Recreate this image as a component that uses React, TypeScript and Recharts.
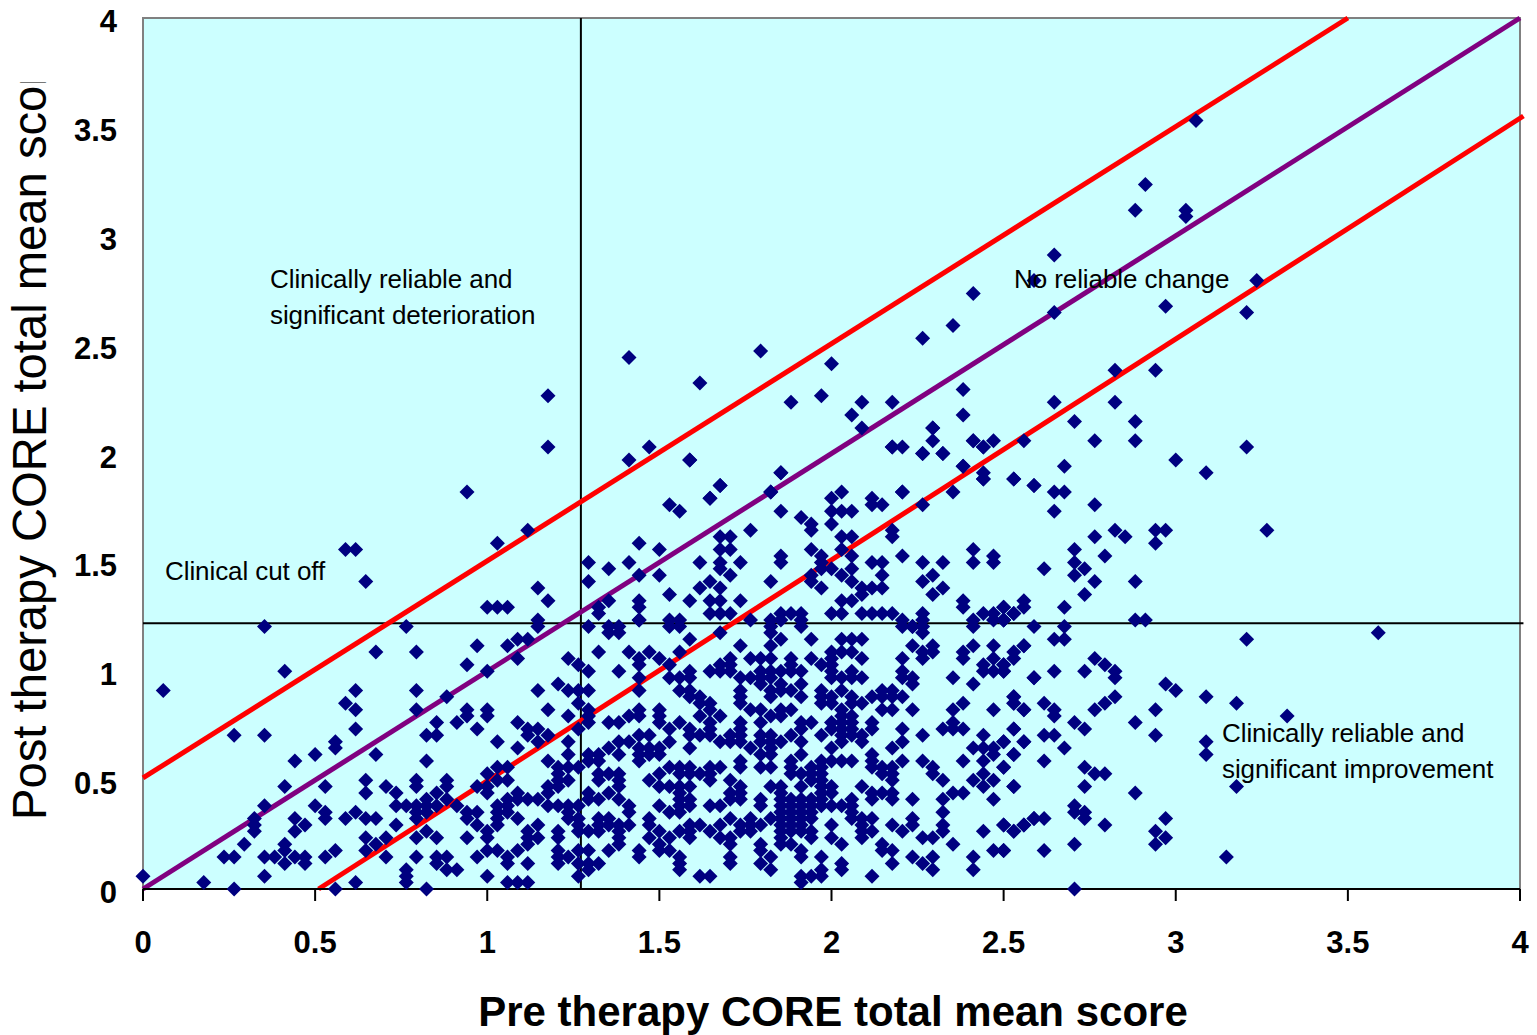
import React from 'react';
import { ScatterChart, Scatter, XAxis, YAxis, ReferenceLine, ReferenceArea } from 'recharts';

// Each row is [post total, pre total, pre total, ...]
const lowLeftRows = [
  [41, 12, 26], [37, 23, 27], [34, 14], [31, 2, 21, 27], [29, 20], [28, 21, 27], [26, 29], [25, 21],
  [24, 9, 12, 28, 29], [23, 19], [22, 19], [21, 17, 23], [20, 15, 28], [17, 22, 27], [16, 14, 18, 24, 27],
  [15, 22, 25, 29], [14, 28], [13, 12, 17, 25, 26, 27, 28, 29], [12, 18, 21, 27, 28],
  [11, 11, 15, 18, 20, 22, 23, 27], [10, 11, 16, 25], [9, 11, 15, 28], [8, 22, 24, 27, 29], [7, 10, 14, 23],
  [6, 14, 19, 22], [5, 8, 9, 12, 13, 15, 16, 18, 24, 27, 29], [4, 14, 16, 29], [3, 26], [2, 0, 12, 26],
  [1, 6, 21, 26], [0, 9, 19, 28],
];

const lowMiddleRows = [
  [42, 49], [41, 39, 44, 52, 53], [40, 46, 47, 57], [39, 37, 38, 54], [38, 33, 36], [37, 45, 48, 50, 53],
  [36, 37, 42, 49, 51, 58], [35, 32, 43, 49, 52, 57, 58], [34, 34, 44, 47, 54, 56, 57, 58], [33, 49, 52, 53, 54],
  [32, 41], [31, 39, 42, 43, 44, 49, 53, 54], [30, 30, 54, 55], [29, 43, 55, 56], [28, 32, 34, 40, 44, 49, 51, 56],
  [27, 32, 34, 42, 44, 48, 49, 51, 55, 57], [26, 31, 37, 44, 46, 47, 51, 53, 56], [25, 33, 38, 39, 43, 52, 54, 56],
  [24, 38, 40, 49, 50, 54, 55, 56, 58], [23, 35, 39, 42, 47, 48, 52, 57, 58], [22, 37, 46, 49, 50, 51, 54],
  [21, 42, 44, 45, 47, 49, 50, 51], [20, 40, 44, 45, 49], [19, 35, 36, 41, 42, 43, 52, 53, 54, 56, 57],
  [18, 34, 41, 45, 46, 47, 51, 53, 54, 55, 56], [17, 30, 35, 36, 41, 42, 45, 47, 50, 56, 58],
  [16, 30, 33, 34, 40, 41, 47, 51, 52, 53, 54], [15, 34, 37, 40, 44, 46, 53, 58],
  [14, 30, 36, 37, 38, 39, 44, 45, 47, 53, 54, 58], [13, 31, 35, 36, 40, 41, 42, 43, 48, 51, 53, 54, 56, 57],
  [12, 32, 33, 35, 36, 42, 48, 52, 53], [11, 32, 35, 37, 42, 43, 45, 46, 50, 58],
  [10, 33, 35, 39, 43, 45, 46, 47, 48, 50, 54, 55, 57], [9, 34, 38, 41, 43, 44, 45, 47, 51, 53, 54, 56],
  [8, 32, 34, 38, 39, 41, 47, 50, 52, 54, 57, 58], [7, 38, 47, 51, 58], [6, 34, 35, 37, 41, 43, 44, 46, 49, 51, 52],
  [5, 30, 33, 36, 41, 42, 49, 53, 58], [4, 36, 38, 41, 43, 44, 45, 53, 58], [3, 30, 31, 44, 53], [2, 34, 43, 55, 56],
  [1, 36, 37, 38],
];

const lowRightRows = [
  [42, 84, 85], [41, 62, 65, 75, 76, 82], [40, 62, 77], [39, 63, 66, 69, 70, 71], [38, 59, 62, 76, 78, 82, 84, 87],
  [37, 68, 69, 70, 77, 78, 81], [36, 60, 61, 62, 64, 66, 68, 71, 75, 77, 81, 84, 86], [35, 64, 67, 68, 83, 85],
  [34, 61, 62, 63, 64, 65, 68, 70, 75, 83, 84, 85], [33, 59, 60, 61, 62, 68, 69, 70, 71, 75, 76, 80, 88],
  [32, 61, 63, 65, 76, 82], [31, 59, 62, 63, 64, 67, 69, 73, 74],
  [30, 59, 62, 65, 67, 68, 70, 72, 73, 74, 75, 86], [29, 59, 67, 68, 70, 71, 81, 86],
  [28, 60, 61, 63, 64, 69, 73, 74, 76, 80, 84, 87], [27, 62, 63, 69, 70],
  [26, 59, 61, 65, 66, 68, 69, 70, 72, 80], [25, 59, 65, 68, 69, 70, 72, 75, 79, 80, 81, 86],
  [24, 59, 61, 62, 64, 67, 69, 70, 71, 77, 83], [23, 59, 61, 62, 63, 65, 69, 71, 75, 85, 87],
  [22, 60, 62, 68, 74, 82, 83, 84], [21, 61, 62, 65, 72, 84, 86], [20, 59, 64, 67, 68, 69, 70, 72, 75, 77, 81, 83],
  [19, 59, 61, 62, 64, 66, 67, 72, 73, 74, 78, 85], [18, 64, 65, 66, 67, 73, 74, 78, 83],
  [17, 66, 67, 74, 79, 82, 84], [16, 59, 62, 63, 65, 67, 68, 71, 83, 86], [15, 59, 63, 67, 68, 72, 73, 74, 80, 81],
  [14, 59, 61, 63, 64, 65, 66, 67, 70, 72, 74, 76, 79, 84], [13, 61, 63, 64, 65, 66, 67, 68, 69, 70],
  [12, 63, 64, 65, 66, 70, 79], [11, 60, 62, 63, 64, 65, 66, 70, 71, 72, 76, 88],
  [10, 59, 60, 61, 63, 64, 65, 68, 71, 74, 76, 79, 85, 87], [9, 59, 60, 63, 64, 65, 66, 71, 72, 75, 79, 83, 86],
  [8, 63, 66, 68, 71, 77, 78], [7, 61, 63, 64, 69, 73, 80], [6, 61, 65, 73, 74, 84, 85], [5, 62, 65, 67, 76, 78, 82],
  [4, 61, 69, 74, 77], [3, 62, 67, 69, 78, 82], [2, 65, 66, 67, 72], [1, 65],
];

const farRightRows = [
  [64, 86], [63, 88], [62, 91], [60, 94], [59, 90], [56, 96, 100, 101, 111], [55, 94, 97], [54, 100], [53, 92],
  [52, 95], [51, 92], [50, 89, 93], [49, 92], [48, 94, 98], [46, 93], [44, 85, 87, 91], [43, 86], [42, 85, 98, 99],
  [41, 88, 91], [40, 122], [39, 90, 91, 109], [38, 87], [37, 86], [36, 94], [35, 85, 95], [34, 85, 90, 93, 96],
  [33, 88, 96], [32, 101], [31, 102], [30, 86, 96, 105], [29, 86, 89, 95, 108], [28, 87, 90, 94, 100], [27, 90, 113],
  [26, 92, 98], [25, 86, 93], [24, 89, 90, 100], [23, 85, 87, 105], [22, 91], [21, 86, 105], [20, 89], [19, 85, 93],
  [18, 94, 95], [16, 86, 93, 108], [15, 98], [13, 92], [12, 92, 93], [11, 88, 89, 93, 101], [10, 85, 87, 95],
  [9, 86, 100], [8, 101], [7, 92, 100], [6, 85, 89], [5, 107], [0, 92],
];

const midBandRows = [
  [72, 78], [70, 82, 84, 78], [69, 50, 74, 75, 83], [68, 77, 79], [67, 48, 54], [66, 81], [65, 63, 83], [64, 83, 86],
  [63, 57], [62, 62, 69, 75, 80], [61, 56, 68, 72], [60, 52, 72, 73, 77], [59, 53, 63, 68, 69, 70], [58, 65], [57, 66, 68],
  [56, 60, 66, 74], [55, 57, 58, 69, 70, 74], [54, 49], [53, 51, 57, 58, 66, 69, 82], [52, 63, 67, 70, 75, 84],
  [51, 44, 48, 55, 57, 59, 63, 67, 72, 73, 77, 79, 82, 84], [50, 46, 57, 67, 68, 70], [49, 49, 51, 58, 66, 69, 73, 78],
  [48, 44, 56, 62, 66, 70, 77], [47, 55, 57, 67, 71, 72, 73, 79], [46, 52, 71, 78],
  [45, 46, 49, 54, 56, 57, 59, 69, 70, 81, 87], [44, 45, 49, 81, 85],
  [43, 45, 56, 57, 58, 63, 64, 65, 68, 69, 71, 72, 73, 74, 77, 83, 84, 86],
  [42, 49, 52, 53, 60, 62, 63, 65, 75, 77, 82, 85], [41, 46, 47, 76, 77],
];

const topRows = [
  [120, 104], [110, 99], [106, 98, 103], [105, 103], [99, 90], [95, 88, 110], [93, 82], [91, 101], [90, 90, 109],
  [88, 80], [86, 77], [84, 61], [83, 48], [82, 68], [81, 96, 100], [79, 55], [78, 81], [77, 40, 67], [76, 64, 71, 74, 90, 96],
  [74, 70, 81], [73, 92, 98], [72, 71, 78], [70, 87, 94, 98, 82], [69, 40, 74, 83, 109], [68, 77, 79], [67, 54, 102],
  [66, 91, 81], [65, 63, 105], [64, 83], [63, 57, 88], [62, 32, 62, 75, 90], [61, 56], [56, 38], [54, 35], [53, 20, 21],
  [48, 22], [47, 39], [45, 40], [44, 34, 35, 36], [42, 39],
];

const upperLimit = [{ x: 0, y: 0.51 }, { x: 3.5, y: 4 }];
const noChange = [{ x: 0, y: 0 }, { x: 4, y: 4 }];
const lowerLimit = [{ x: 0.51, y: 0 }, { x: 4.01, y: 3.55 }];
const cutOffPre = [{ x: 1.272, y: 0 }, { x: 1.272, y: 4 }];
const cutOffPost = [{ x: 0, y: 1.22 }, { x: 4.01, y: 1.22 }];

const axisTicks = [0, 0.5, 1, 1.5, 2, 2.5, 3, 3.5, 4];

const ITEMS = 34;

const toPoints = (rows: number[][]) =>
  rows.flatMap(([post, ...pres]) => pres.map((pre) => ({ pre: pre / ITEMS, post: post / ITEMS })));

const points = [lowLeftRows, lowMiddleRows, lowRightRows, farRightRows, midBandRows, topRows].flatMap(toPoints);

const Diamond = ({ cx, cy }: any) => (
  <path d={`M${cx} ${cy - 7.5}L${cx + 7.5} ${cy}L${cx} ${cy + 7.5}L${cx - 7.5} ${cy}Z`} fill="#000080" />
);

const noteStyle = { fontFamily: 'Liberation Sans', fontSize: 26, fill: '#000', letterSpacing: -0.08 };
const tickStyle = { fontFamily: 'Liberation Sans', fontSize: 31, fontWeight: 700, fill: '#000' };

export default function App() {
  return (
    <div style={{ position: 'absolute', left: 0, top: 0, width: 1537, height: 1035, background: '#fff' }}>
      <ScatterChart width={1537} height={1035} margin={{ top: 18, right: 17, bottom: 86, left: 83 }}>
        <XAxis
          type="number"
          dataKey="pre"
          domain={[0, 4]}
          ticks={axisTicks}
          interval={0}
          height={60}
          tickSize={12}
          tickMargin={30}
          stroke="#000"
          strokeWidth={2}
          tick={tickStyle}
        />
        <YAxis
          type="number"
          dataKey="post"
          domain={[0, 4]}
          ticks={axisTicks}
          interval={0}
          width={60}
          axisLine={false}
          tickLine={false}
          tickSize={0}
          tickMargin={26}
          tick={{ ...tickStyle, dy: 3 }}
        />
        <ReferenceArea x1={0} x2={4} y1={0} y2={4} fill="#CCFFFF" fillOpacity={1} stroke="#808080" strokeWidth={2} />
        <Scatter data={points} shape={Diamond} isAnimationActive={false} />
        <ReferenceLine segment={cutOffPre} stroke="#000" strokeWidth={2} />
        <ReferenceLine segment={cutOffPost} stroke="#000" strokeWidth={2} ifOverflow="visible" />
        <ReferenceLine segment={upperLimit} stroke="#FF0000" strokeWidth={5} />
        <ReferenceLine segment={noChange} stroke="#800080" strokeWidth={5} />
        <ReferenceLine segment={lowerLimit} stroke="#FF0000" strokeWidth={5} ifOverflow="visible" />
      </ScatterChart>
      <svg width={1537} height={1035} style={{ position: 'absolute', left: 0, top: 0, pointerEvents: 'none' }}>
        <text x={270} y={288} style={noteStyle}>Clinically reliable and</text>
        <text x={270} y={324} style={noteStyle}>significant deterioration</text>
        <text x={1014} y={288} style={noteStyle}>No reliable change</text>
        <text x={165} y={580} style={noteStyle}>Clinical cut off</text>
        <text x={1222} y={742} style={noteStyle}>Clinically reliable and</text>
        <text x={1222} y={778} style={noteStyle}>significant improvement</text>
        <text
          x={833}
          y={1026}
          textAnchor="middle"
          style={{ fontFamily: 'Liberation Sans', fontSize: 42, fontWeight: 700, fill: '#000' }}
        >
          Pre therapy CORE total mean score
        </text>
        <defs>
          <clipPath id="postTitleClip">
            <rect x={0} y={82} width={70} height={760} />
          </clipPath>
        </defs>
        <g clipPath="url(#postTitleClip)">
          <text
            transform="translate(46 820) rotate(-90)"
            style={{ fontFamily: 'Liberation Sans', fontSize: 47.2, fill: '#000' }}
          >
            Post therapy CORE total mean score
          </text>
        </g>
      </svg>
    </div>
  );
}
